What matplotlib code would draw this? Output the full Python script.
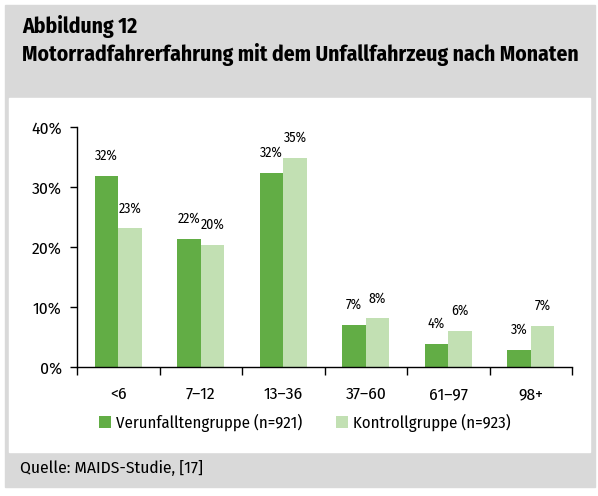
import matplotlib.pyplot as plt
from matplotlib.patches import Rectangle
import numpy as np

# Data
categories = ['<6', '7\u201312', '13\u201336', '37\u201360', '61\u201397', '98+']
accidentGroup = [31.9, 21.4, 32.4, 7.0, 3.8, 2.9]
controlGroup = [23.1, 20.3, 34.8, 8.1, 6.0, 6.9]
accidentLabels = ['32%', '22%', '32%', '7%', '4%', '3%']
controlLabels = ['23%', '20%', '35%', '8%', '6%', '7%']
legendNames = ['Verunfalltengruppe (n=921)', 'Kontrollgruppe (n=923)']

darkGreen = '#62ad45'
lightGreen = '#c2e0b3'
panelGray = '#d9d9d9'

plt.rcParams['font.family'] = ['Fira Sans Condensed', 'Roboto Condensed', 'DejaVu Sans']

W, H = 598, 496
fig = plt.figure(figsize=(W / 100, H / 100), dpi=100)

def box(x0, y0, x1, y1):
    # pixel box (top-down) -> figure fraction
    return (x0 / W, 1 - y1 / H, (x1 - x0) / W, (y1 - y0) / H)

# Background panels
x, y, w, h = box(5, 5, 595, 487)
fig.patches.append(Rectangle((x, y), w, h, transform=fig.transFigure, color=panelGray, zorder=-10))
x, y, w, h = box(9, 98, 590, 452)
fig.patches.append(Rectangle((x, y), w, h, transform=fig.transFigure, color='white', zorder=-9))

# Title and source
fig.text(22 / W, 1 - 27 / H, 'Abbildung 12', fontsize=15.5, fontweight='bold', va='center', ha='left')
fig.text(22 / W, 1 - 54 / H, 'Motorradfahrerfahrung mit dem Unfallfahrzeug nach Monaten',
         fontsize=15.5, fontweight='bold', va='center', ha='left')
fig.text(20 / W, 1 - 468 / H, 'Quelle: MAIDS-Studie, [17]', fontsize=12.5, va='center', ha='left')

# Axes
ax = fig.add_axes(box(77, 127, 572, 367))
ax.set_facecolor('none')

xPos = np.arange(len(categories))
barWidth = 0.285
bars1 = ax.bar(xPos - barWidth / 2, accidentGroup, barWidth, color=darkGreen, label=legendNames[0])
bars2 = ax.bar(xPos + barWidth / 2, controlGroup, barWidth, color=lightGreen, label=legendNames[1])

for bar, label in zip(bars1, accidentLabels):
    ax.annotate(label, (bar.get_x() + bar.get_width() / 2, bar.get_height()),
                xytext=(0, 14.5), textcoords='offset points', ha='center', va='center', fontsize=10)
for bar, label in zip(bars2, controlLabels):
    ax.annotate(label, (bar.get_x() + bar.get_width() / 2, bar.get_height()),
                xytext=(0, 14.5), textcoords='offset points', ha='center', va='center', fontsize=10)

ax.set_xlim(-0.5, len(categories) - 0.5)
ax.set_ylim(0, 40)
ax.set_yticks([0, 10, 20, 30, 40])
ax.set_yticklabels(['0%', '10%', '20%', '30%', '40%'], fontsize=12.5)

# Category boundaries get the tick marks, labels sit in the middle
ax.set_xticks(np.arange(-0.5, len(categories), 1.0))
ax.set_xticklabels([])
ax.set_xticks(xPos, minor=True)
ax.set_xticklabels(categories, minor=True, fontsize=12.5)
ax.tick_params(axis='x', which='minor', length=0, pad=14)
ax.tick_params(axis='x', which='major', length=6, direction='out', width=1)
ax.tick_params(axis='y', length=5, direction='out', width=1, pad=6)

for side in ['top', 'right']:
    ax.spines[side].set_visible(False)
ax.spines['left'].set_linewidth(1)
ax.spines['bottom'].set_linewidth(1)

fig.legend(handles=[bars1, bars2], labels=legendNames, loc='center', ncol=2,
           bbox_to_anchor=(305 / W, 1 - 423 / H), frameon=False, fontsize=12,
           handlelength=0.75, handleheight=0.75, handletextpad=0.3, columnspacing=2.0)

fig.savefig('out.png', dpi=100)
